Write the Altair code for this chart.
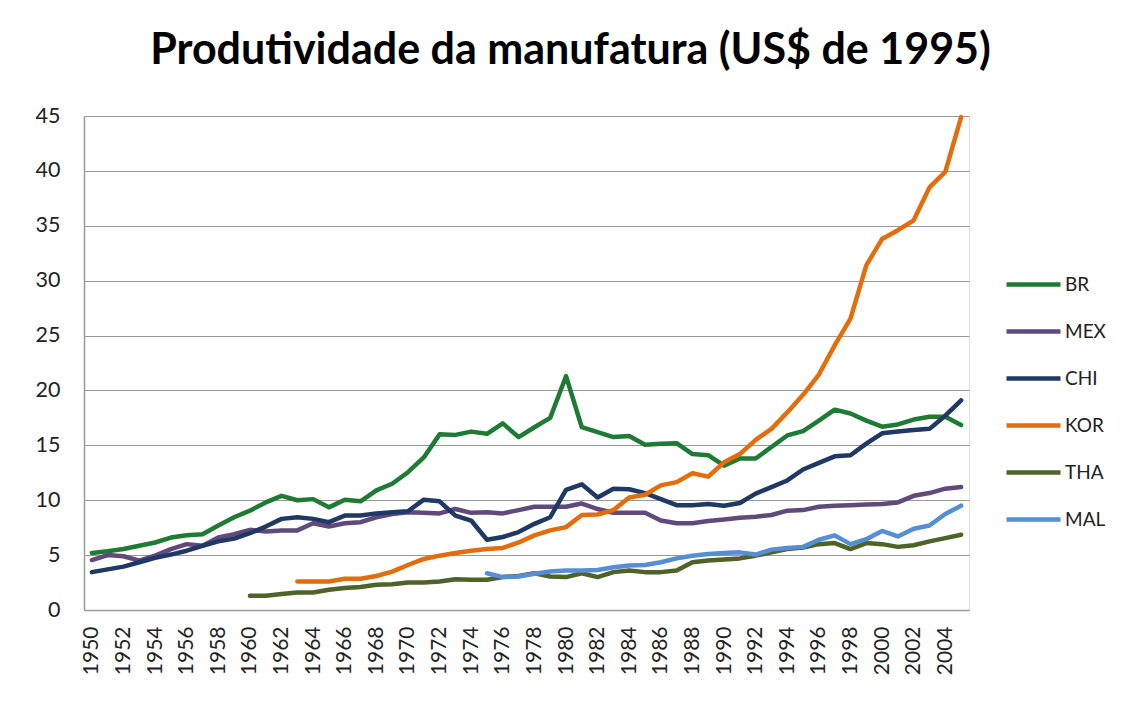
import altair as alt
import pandas as pd

years = list(range(1950, 2006))

BR = [5.2, 5.35, 5.55, 5.85, 6.15, 6.6, 6.8, 6.9, 7.7, 8.45,
      9.05, 9.8, 10.4, 10.0, 10.1, 9.35, 10.05, 9.9, 10.9, 11.5,
      12.55, 13.9, 16.0, 15.95, 16.25, 16.05, 17.0, 15.75, 16.65, 17.5,
      21.3, 16.65, 16.2, 15.75, 15.85, 15.05, 15.15, 15.2, 14.2, 14.1,
      13.15, 13.8, 13.8, 14.85, 15.9, 16.3, 17.25, 18.25, 17.9, 17.25,
      16.7, 16.9, 17.35, 17.6, 17.6, 16.85]

MEX = [4.55, 5.0, 4.9, 4.5, 4.95, 5.55, 6.0, 5.85, 6.6, 6.9,
       7.3, 7.15, 7.25, 7.25, 7.9, 7.6, 7.9, 8.0, 8.45, 8.75,
       8.9, 8.85, 8.8, 9.2, 8.85, 8.9, 8.8, 9.1, 9.4, 9.4,
       9.4, 9.7, 9.2, 8.85, 8.85, 8.85, 8.15, 7.9, 7.9, 8.1,
       8.25, 8.4, 8.5, 8.65, 9.05, 9.1, 9.4, 9.5, 9.55, 9.6,
       9.65, 9.8, 10.4, 10.65, 11.05, 11.2]

CHI = [3.45, 3.7, 3.95, 4.35, 4.75, 5.05, 5.4, 5.85, 6.25, 6.5,
       7.0, 7.6, 8.3, 8.45, 8.3, 8.0, 8.6, 8.6, 8.8, 8.9,
       9.0, 10.05, 9.9, 8.6, 8.15, 6.4, 6.65, 7.1, 7.85, 8.45,
       10.95, 11.45, 10.25, 11.05, 11.0, 10.65, 10.1, 9.55, 9.55, 9.65,
       9.5, 9.75, 10.6, 11.2, 11.8, 12.8, 13.4, 14.0, 14.1, 15.15,
       16.1, 16.25, 16.4, 16.5, 17.7, 19.1]

KOR = [None] * 13 + [2.6, 2.6, 2.6, 2.85, 2.85, 3.1, 3.5,
       4.1, 4.65, 4.95, 5.2, 5.4, 5.55, 5.65, 6.15, 6.8, 7.25,
       7.55, 8.65, 8.7, 9.1, 10.25, 10.5, 11.35, 11.65, 12.45, 12.15,
       13.45, 14.2, 15.5, 16.5, 18.0, 19.6, 21.45, 24.1, 26.55, 31.4,
       33.8, 34.6, 35.5, 38.5, 39.9, 44.9]

THA = [None] * 10 + [1.3, 1.3, 1.45, 1.6, 1.6, 1.85, 2.0, 2.1, 2.3, 2.35,
       2.5, 2.5, 2.6, 2.8, 2.75, 2.75, 3.0, 3.1, 3.35, 3.05,
       3.0, 3.35, 3.0, 3.45, 3.6, 3.45, 3.45, 3.6, 4.35, 4.5,
       4.6, 4.7, 4.95, 5.25, 5.55, 5.7, 6.0, 6.1, 5.55, 6.1,
       6.0, 5.75, 5.9, 6.25, 6.55, 6.85]

MAL = [None] * 25 + [3.35, 3.0, 3.05, 3.3, 3.5,
       3.6, 3.6, 3.65, 3.9, 4.05, 4.1, 4.35, 4.7, 4.95, 5.1,
       5.2, 5.25, 5.05, 5.5, 5.65, 5.75, 6.4, 6.8, 6.0, 6.45,
       7.2, 6.7, 7.4, 7.7, 8.75, 9.5]

series_names = ["BR", "MEX", "CHI", "KOR", "THA", "MAL"]
series_colors = ["#1e7b34", "#604a7b", "#1f3864", "#e46c0a", "#4f6228", "#558ed5"]
x_tick_years = [1950, 1952, 1954, 1956, 1958, 1960, 1962, 1964, 1966, 1968,
                1970, 1972, 1974, 1976, 1978, 1980, 1982, 1984, 1986, 1988,
                1990, 1992, 1994, 1996, 1998, 2000, 2002, 2004]
y_ticks = [0, 5, 10, 15, 20, 25, 30, 35, 40, 45]

rows = []
for name, vals in zip(series_names, [BR, MEX, CHI, KOR, THA, MAL]):
    for y, v in zip(years, vals):
        if v is not None:
            rows.append({"ano": y, "valor": v, "pais": name})
df = pd.DataFrame(rows)

FONT = "Lato"

chart = alt.Chart(df).mark_line(
    strokeWidth=4.5, strokeCap="round", strokeJoin="round"
).encode(
    x=alt.X("ano:O",
            scale=alt.Scale(type="point", padding=0.5),
            axis=alt.Axis(values=x_tick_years, title=None, labelAngle=-90,
                          labelFontSize=21, labelFont=FONT, labelColor="#222222",
                          labelPadding=16, ticks=False, domain=True,
                          domainColor="#9a9a9a", domainWidth=1.5,
                          labelBaseline="middle", labelAlign="right")),
    y=alt.Y("valor:Q",
            scale=alt.Scale(domain=[0, 45], nice=False),
            axis=alt.Axis(values=y_ticks, title=None, labelFontSize=21.5,
                          labelFont=FONT, labelColor="#222222", labelPadding=24,
                          ticks=False, domain=True, domainColor="#9a9a9a",
                          domainWidth=1.5, grid=True, gridColor="#999999",
                          gridWidth=1.2)),
    color=alt.Color("pais:N",
                    scale=alt.Scale(domain=series_names, range=series_colors),
                    sort=series_names,
                    legend=alt.Legend(title=None, orient="none",
                                      legendX=920, legendY=139,
                                      symbolType="stroke", symbolSize=2916,
                                      symbolStrokeWidth=4.5,
                                      labelFont=FONT, labelFontSize=19,
                                      labelColor="#222222", labelOffset=2,
                                      rowPadding=7)),
).properties(
    width=885,
    height=494,
    title=alt.TitleParams(
        "Produtividade da manufatura (US$ de 1995)",
        font=FONT, fontSize=43, fontWeight="bold", color="#000000",
        anchor="middle", dx=44, offset=-2, baseline="alphabetic"),
    autosize=alt.AutoSizeParams(type="none"),
    padding={"left": 76, "top": 108, "right": 150, "bottom": 82},
).configure_view(stroke=None).configure(background="white")

chart.save("out.html", embed_options={"renderer": "svg", "actions": False})
